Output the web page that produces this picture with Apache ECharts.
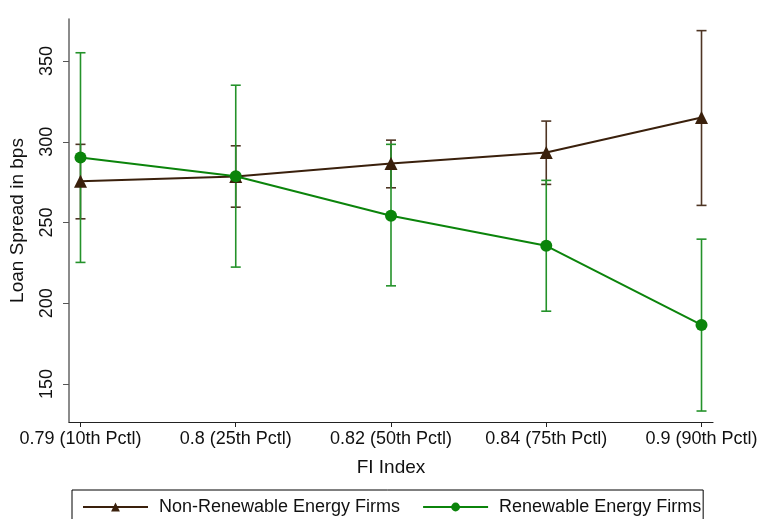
<!DOCTYPE html>
<html>
<head>
<meta charset="utf-8">
<script src="https://cdn.jsdelivr.net/npm/echarts@6/dist/echarts.min.js"></script>
<style>
html,body{margin:0;padding:0;background:#fff;}
#chart{width:761px;height:519px;}
</style>
</head>
<body>
<div id="chart"></div>
<script>
const categories = ['0.79 (10th Pctl)', '0.8 (25th Pctl)', '0.82 (50th Pctl)', '0.84 (75th Pctl)', '0.9 (90th Pctl)'];
const nonRenewable = [275.5, 278.5, 286.5, 293.3, 315.0];
const nonRenewableLow = [252.3, 259.5, 271.5, 273.6, 260.6];
const nonRenewableHigh = [298.4, 297.5, 301.0, 312.8, 368.8];
const renewable = [290.3, 278.7, 254.2, 235.6, 186.6];
const renewableLow = [225.3, 222.4, 210.8, 195.1, 133.3];
const renewableHigh = [355.1, 335.0, 298.4, 276.1, 239.7];
const yTicks = [150, 200, 250, 300, 350];

const brown = '#3a200c';
const brownBar = '#4e3524';
const green = '#0b840b';
const greenBar = '#24922a';
const font = '"Liberation Sans", Arial, sans-serif';

function pts(vals) { return vals.map((v, i) => [i, v]); }
function bars(lo, hi) { return lo.map((v, i) => [i, v, hi[i]]); }
function errRender(color) {
  return function (params, api) {
    const x = api.value(0);
    const pLo = api.coord([x, api.value(1)]);
    const pHi = api.coord([x, api.value(2)]);
    const hw = 5;
    const st = { stroke: color, lineWidth: 1.6 };
    return {
      type: 'group',
      children: [
        { type: 'line', shape: { x1: pHi[0], y1: pHi[1], x2: pLo[0], y2: pLo[1] }, style: st },
        { type: 'line', shape: { x1: pHi[0] - hw, y1: pHi[1], x2: pHi[0] + hw, y2: pHi[1] }, style: st },
        { type: 'line', shape: { x1: pLo[0] - hw, y1: pLo[1], x2: pLo[0] + hw, y2: pLo[1] }, style: st }
      ]
    };
  };
}

const chart = echarts.init(document.getElementById('chart'), null, { renderer: 'canvas' });
chart.setOption({
  animation: false,
  backgroundColor: '#fff',
  textStyle: { fontFamily: font },
  grid: { left: 69, right: 48, top: 19, bottom: 97 },
  xAxis: {
    type: 'value',
    min: -0.074,
    max: 4.074,
    name: 'FI Index',
    nameLocation: 'middle',
    nameGap: 36,
    nameTextStyle: { fontSize: 19, color: '#111', fontFamily: font, verticalAlign: 'top' },
    axisLine: { show: true, onZero: false, lineStyle: { color: '#222', width: 1.2 } },
    axisTick: { show: true, length: 5, lineStyle: { color: '#222' }, customValues: [0, 1, 2, 3, 4] },
    axisLabel: {
      fontSize: 18, color: '#111', fontFamily: font, margin: 8,
      customValues: [0, 1, 2, 3, 4],
      formatter: v => categories[Math.round(v)]
    },
    splitLine: { show: false }
  },
  yAxis: {
    type: 'value',
    min: 126.5,
    max: 376,
    name: 'Loan Spread in bps',
    nameLocation: 'middle',
    nameGap: 42,
    nameTextStyle: { fontSize: 19, color: '#111', fontFamily: font },
    axisLine: { show: true, onZero: false, lineStyle: { color: '#6e6e6e', width: 1.6 } },
    axisTick: { show: true, length: 6, lineStyle: { color: '#555' }, customValues: yTicks },
    axisLabel: { fontSize: 18, color: '#111', fontFamily: font, rotate: 90, margin: 13, customValues: yTicks },
    splitLine: { show: false }
  },
  legend: {
    data: ['Non-Renewable Energy Firms', 'Renewable Energy Firms'],
    left: 72,
    top: 490,
    width: 680,
    orient: 'horizontal',
    itemWidth: 65,
    itemHeight: 11,
    itemGap: 22,
    borderColor: '#000',
    borderWidth: 1,
    borderRadius: 0,
    padding: [8, 2, 30, 10],
    textStyle: { fontSize: 18, color: '#111', fontFamily: font, padding: [0, 0, 0, 6] }
  },
  series: [
    {
      type: 'custom', name: 'nrCI', renderItem: errRender(brownBar),
      data: bars(nonRenewableLow, nonRenewableHigh), encode: { x: 0, y: [1, 2] }, z: 1
    },
    {
      type: 'custom', name: 'rCI', renderItem: errRender(greenBar),
      data: bars(renewableLow, renewableHigh), encode: { x: 0, y: [1, 2] }, z: 1
    },
    {
      type: 'line', name: 'Non-Renewable Energy Firms', data: pts(nonRenewable),
      symbol: 'triangle', symbolSize: 13,
      lineStyle: { color: brown, width: 2 }, itemStyle: { color: brown }, z: 3
    },
    {
      type: 'line', name: 'Renewable Energy Firms', data: pts(renewable),
      symbol: 'circle', symbolSize: 12,
      lineStyle: { color: green, width: 2 }, itemStyle: { color: green }, z: 4
    }
  ]
});
</script>
</body>
</html>
